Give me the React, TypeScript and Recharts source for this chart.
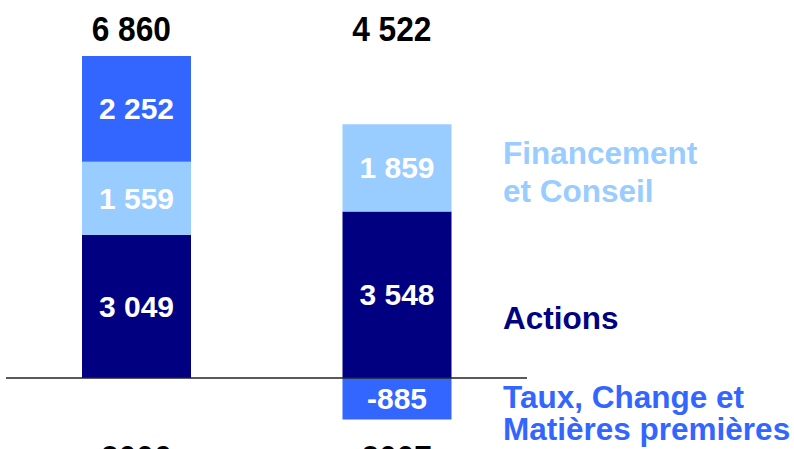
import React from 'react';
import { BarChart, Bar, XAxis, YAxis, ReferenceLine, LabelList } from 'recharts';

const years = ['2006', '2007'];
const actions = [3049, 3548];
const financement = [1559, 1859];
const taux = [2252, -885];

const NAVY = '#000080';
const LIGHT = '#99CCFF';
const BLUE = '#3366FF';
const FONT = '"Liberation Sans", Arial, sans-serif';

const totals = years.map((_, i) => actions[i] + financement[i] + taux[i]);
const data = years.map((y, i) => ({
  year: y,
  actions: actions[i],
  financement: financement[i],
  taux: taux[i],
  total: totals[i],
}));

const fmt = (v: any) => {
  const n = Number(v);
  const s = String(Math.abs(n)).replace(/\B(?=(\d{3})+(?!\d))/g, ' ');
  return (n < 0 ? '-' : '') + s;
};

const TopTick = (props: any) => {
  const { x, y, payload } = props;
  const idx = years.indexOf(payload.value);
  return (
    <g transform={`translate(${x - 5},${y}) scale(0.88,1)`}>
      <text x={0} y={0} dy={0} textAnchor="middle" fontFamily={FONT} fontWeight="bold" fontSize={36} fill="#000">
        {fmt(totals[idx])}
      </text>
    </g>
  );
};

const BottomTick = (props: any) => {
  const { x, y, payload } = props;
  return (
    <g transform={`translate(${x},${y}) scale(0.88,1)`}>
      <text x={0} y={0} dy={42} textAnchor="middle" fontFamily={FONT} fontWeight="bold" fontSize={36} fill="#000">
        {payload.value}
      </text>
    </g>
  );
};

const labelStyle = { fill: '#fff', fontSize: 30, fontWeight: 'bold' as const, fontFamily: FONT };

const legendLines = [
  { text: 'Financement', color: LIGHT, y: 164 },
  { text: 'et Conseil', color: LIGHT, y: 202 },
  { text: 'Actions', color: NAVY, y: 329 },
  { text: 'Taux, Change et', color: BLUE, y: 408 },
  { text: 'Matières premières', color: BLUE, y: 440 },
];

export default function App() {
  return (
    <div style={{ position: 'absolute', left: 0, top: 0, width: 794, height: 449, overflow: 'hidden', background: '#fff' }}>
      <BarChart
        width={794}
        height={480}
        data={data}
        stackOffset="sign"
        barSize={109}
        margin={{ top: 9.4, right: 267, bottom: 0, left: 6 }}
      >
        <XAxis
          xAxisId="top"
          orientation="top"
          dataKey="year"
          height={40}
          axisLine={false}
          tickLine={false}
          tick={<TopTick />}
        />
        <XAxis dataKey="year" height={59.75} axisLine={false} tickLine={false} tick={<BottomTick />} />
        <YAxis hide domain={[-900, 7000]} allowDataOverflow />
        <ReferenceLine y={0} stroke="#222" strokeWidth={1.3} />
        <Bar dataKey="actions" stackId="a" fill={NAVY} isAnimationActive={false}>
          <LabelList dataKey="actions" position="center" formatter={fmt} style={labelStyle} />
        </Bar>
        <Bar dataKey="financement" stackId="a" fill={LIGHT} isAnimationActive={false}>
          <LabelList dataKey="financement" position="center" formatter={fmt} style={labelStyle} />
        </Bar>
        <Bar dataKey="taux" stackId="a" fill={BLUE} isAnimationActive={false}>
          <LabelList dataKey="taux" position="center" formatter={fmt} style={labelStyle} />
        </Bar>
      </BarChart>
      <svg width={794} height={449} style={{ position: 'absolute', left: 0, top: 0, pointerEvents: 'none' }}>
        {legendLines.map((l) => (
          <text key={l.text} x={503} y={l.y} fill={l.color} fontFamily={FONT} fontWeight="bold" fontSize={31.5}>
            {l.text}
          </text>
        ))}
      </svg>
    </div>
  );
}
